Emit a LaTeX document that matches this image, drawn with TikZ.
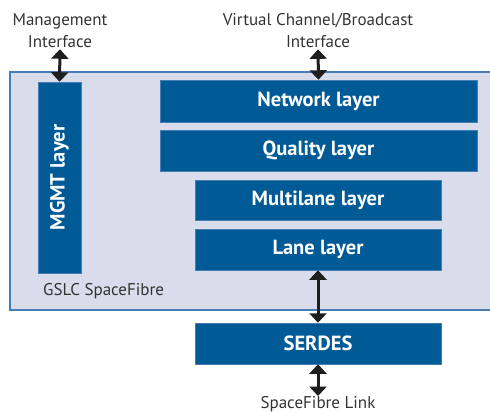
\documentclass[tikz,border=0pt]{standalone}
\usepackage{fontspec}
\setmainfont{PT Sans}
\usetikzlibrary{arrows.meta}

\definecolor{layerblue}{RGB}{0,90,150}
\definecolor{framefill}{RGB}{217,220,234}
\definecolor{frameline}{RGB}{70,125,180}
\definecolor{arrowgray}{RGB}{30,30,30}

\tikzset{
  layer/.style={draw=frameline, line width=0.5pt, fill=layerblue, text=white,
    font=\fontsize{20.5}{22}\selectfont\bfseries, inner sep=0pt},
  iface/.style={align=center, font=\fontsize{17}{22}\selectfont, text=black!80, inner sep=1pt},
  biarrow/.style={draw=arrowgray, line width=3pt,
    {Triangle[width=17pt,length=9.5pt]}-{Triangle[width=17pt,length=9.5pt]}}
}

\begin{document}
\begin{tikzpicture}[x=1pt,y=-1pt]
  \useasboundingbox (0,0) rectangle (490,412);
  \clip (0,0) rectangle (490,412);

  % frame of the GSLC
  \draw[draw=frameline, line width=1.2pt, fill=framefill] (10,72) rectangle (500,310);
  \node[anchor=west, font=\fontsize{17}{19}\selectfont, text=black!80, inner sep=0pt] (gslc) at (43,291) {GSLC SpaceFibre};

  % layers
  \node[layer, minimum width=43, minimum height=191] (mgmt) at (59.5,177.5) {\rotatebox{90}{MGMT layer}};
  \node[layer, minimum width=317, minimum height=42] (network) at (318.5,101) {Network layer};
  \node[layer, minimum width=317, minimum height=41] (quality) at (318.5,150.5) {Quality layer};
  \node[layer, minimum width=246, minimum height=40] (multilane) at (318,200) {Multilane layer};
  \node[layer, minimum width=246, minimum height=41] (lane) at (318,249.5) {Lane layer};
  \node[layer, minimum width=246, minimum height=41] (serdes) at (318,343.5) {SERDES};

  % interfaces
  \node[iface] (mgmtif) at (60,31) {Management\\Interface};
  \node[iface] (vcif) at (318,31) {Virtual Channel/Broadcast\\Interface};
  \node[iface, inner sep=0pt] (link) at (318,404) {SpaceFibre Link};

  \draw[biarrow] (mgmtif.south) -- (mgmt.north);
  \draw[biarrow] (vcif.south) -- (network.north);
  \draw[biarrow] (lane.south) -- (serdes.north);
  \draw[biarrow] (serdes.south) -- (link.north);
\end{tikzpicture}
\end{document}
